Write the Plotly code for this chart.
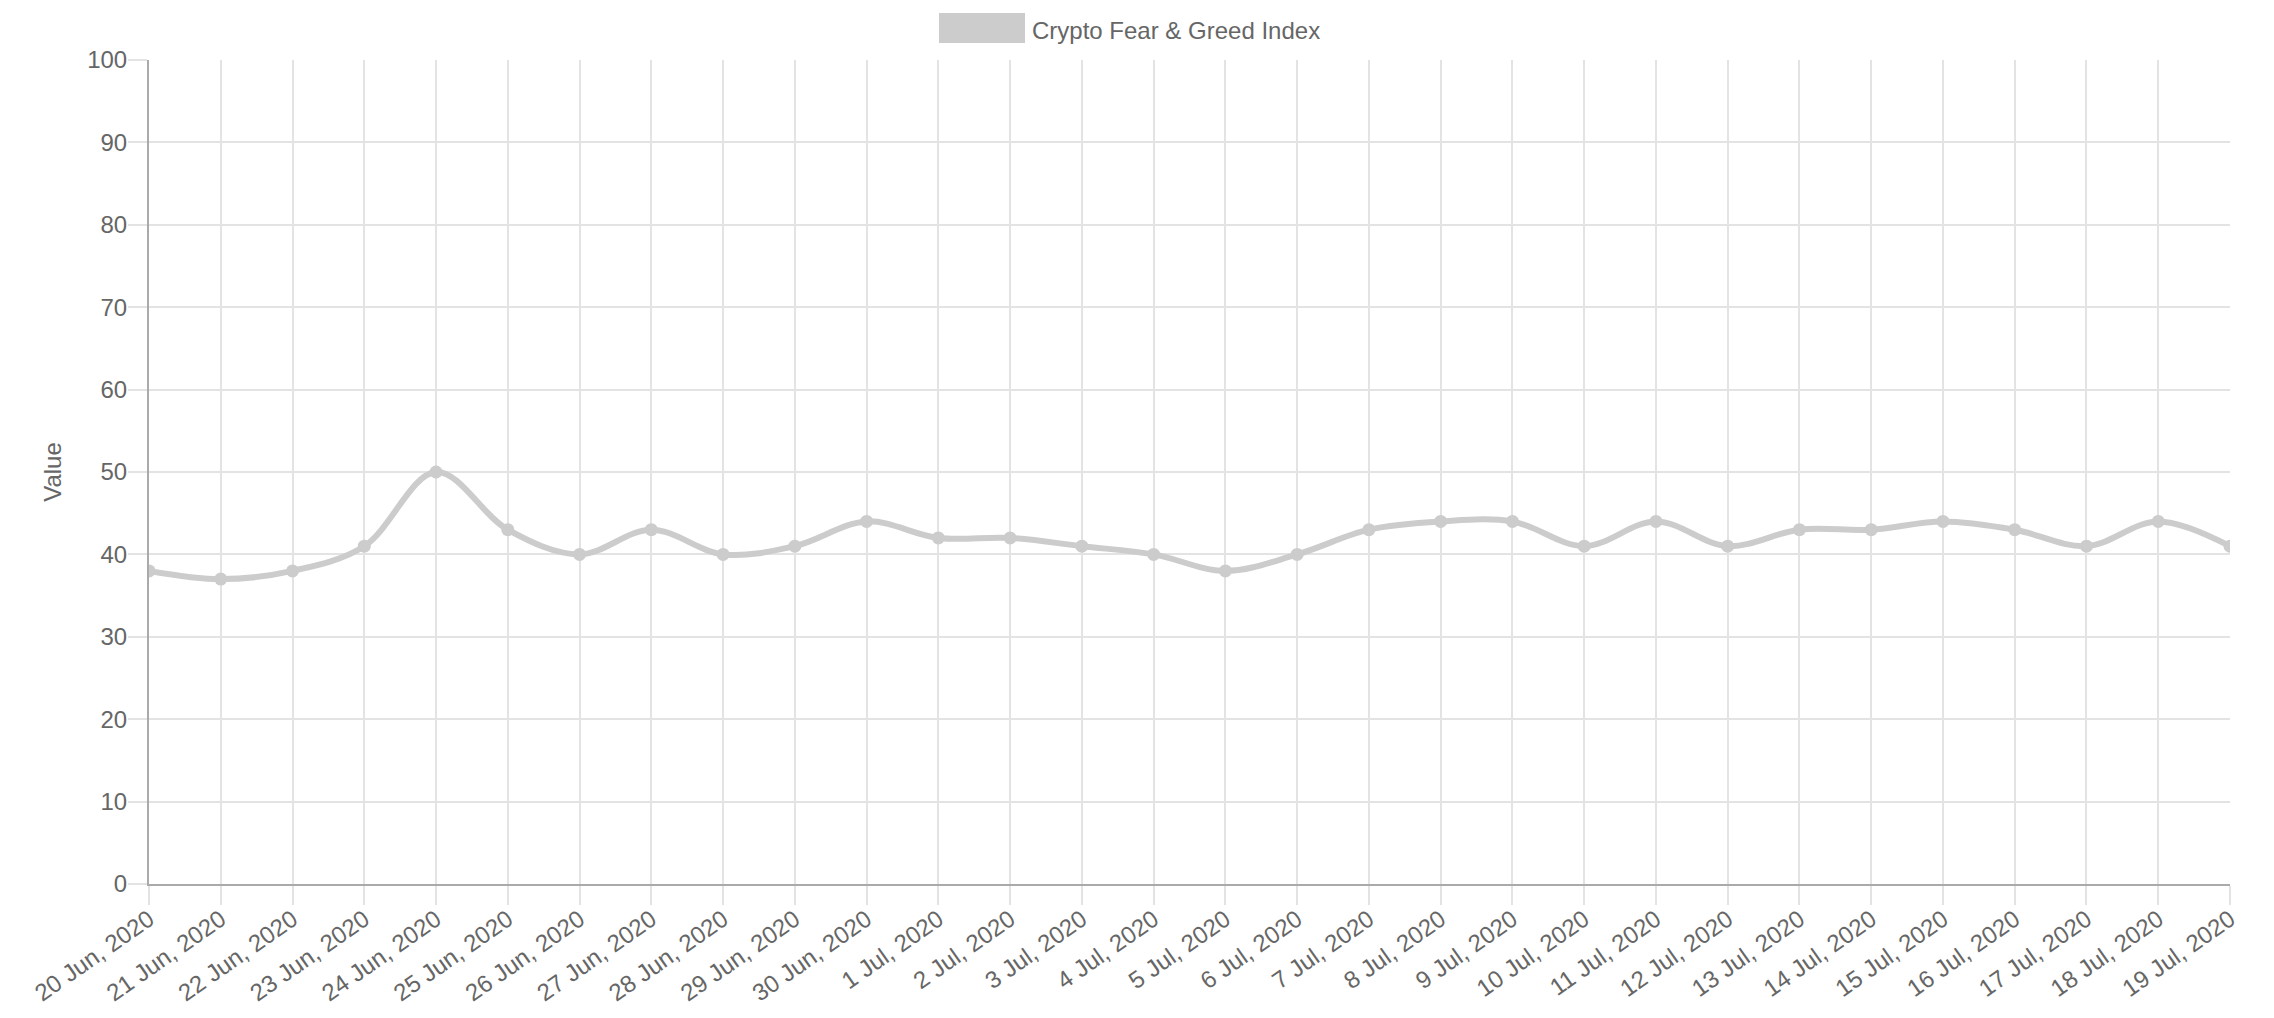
import plotly.graph_objects as go

dates = ["20 Jun, 2020", "21 Jun, 2020", "22 Jun, 2020", "23 Jun, 2020", "24 Jun, 2020",
         "25 Jun, 2020", "26 Jun, 2020", "27 Jun, 2020", "28 Jun, 2020", "29 Jun, 2020",
         "30 Jun, 2020", "1 Jul, 2020", "2 Jul, 2020", "3 Jul, 2020", "4 Jul, 2020",
         "5 Jul, 2020", "6 Jul, 2020", "7 Jul, 2020", "8 Jul, 2020", "9 Jul, 2020",
         "10 Jul, 2020", "11 Jul, 2020", "12 Jul, 2020", "13 Jul, 2020", "14 Jul, 2020",
         "15 Jul, 2020", "16 Jul, 2020", "17 Jul, 2020", "18 Jul, 2020", "19 Jul, 2020"]
values = [38, 37, 38, 41, 50, 43, 40, 43, 40, 41,
          44, 42, 42, 41, 40, 38, 40, 43, 44, 44,
          41, 44, 41, 43, 43, 44, 43, 41, 44, 41]
series_name = "Crypto Fear & Greed Index"
y_title = "Value"

LINE = "#cccccc"
TXT = "#666666"
GRID = "#e3e3e3"
AXIS = "#aaaaaa"
FONT = "Liberation Sans, Arial, Helvetica, sans-serif"

W, H = 2274, 1018
ML, MR, MT, MB = 149, 44, 60, 134
PW, PH = W - ML - MR, H - MT - MB

fig = go.Figure()
fig.add_trace(go.Scatter(
    x=dates, y=values, mode="lines+markers", name=series_name,
    line=dict(color=LINE, width=6, shape="spline", smoothing=1.0),
    marker=dict(color=LINE, size=13),
    showlegend=False,
))
# legend-only entry; its swatch is the wide box drawn below
fig.add_trace(go.Scatter(
    x=[None], y=[None], mode="lines", name=series_name,
    line=dict(color="rgba(204,204,204,0)", width=1),
    showlegend=True,
))

# wide legend swatch box (86x30 px)
bx0, bx1, by0, by1 = 939, 1025, 13, 43
fig.add_shape(
    type="rect", xref="paper", yref="paper",
    x0=(bx0 - ML) / PW, x1=(bx1 - ML) / PW,
    y0=(H - MB - by1) / PH, y1=(H - MB - by0) / PH,
    fillcolor=LINE, line=dict(width=0), layer="above",
)

fig.update_layout(
    width=W, height=H,
    margin=dict(l=ML, r=MR, t=MT, b=MB, autoexpand=False),
    paper_bgcolor="white", plot_bgcolor="white",
    font=dict(family=FONT, size=24, color=TXT),
    legend=dict(orientation="h", xref="container", yref="container",
                x=(W / 2 - 6) / W, xanchor="center", y=1 - 8 / H, yanchor="top",
                itemwidth=86, font=dict(size=24, color=TXT),
                bgcolor="rgba(0,0,0,0)"),
    xaxis=dict(
        type="category", range=[0, len(dates) - 1],
        showgrid=True, gridcolor=GRID, gridwidth=2,
        showline=True, linecolor=AXIS, linewidth=2,
        ticks="outside", ticklen=19, tickwidth=2, tickcolor=GRID,
        tickangle=-35, tickfont=dict(size=24, color=TXT),
        zeroline=False,
    ),
    yaxis=dict(
        range=[0, 100], dtick=10, tick0=0,
        showgrid=True, gridcolor=GRID, gridwidth=2,
        showline=True, linecolor=AXIS, linewidth=2,
        ticks="outside", ticklen=19, tickwidth=2, tickcolor=GRID,
        tickfont=dict(size=24, color=TXT),
        zeroline=False,
        title=dict(text=y_title, font=dict(size=24, color=TXT), standoff=19),
    ),
)

try:
    fig.update_xaxes(ticklabelstandoff=-9)
    fig.update_yaxes(ticklabelstandoff=-4)
except Exception:
    pass

fig.write_html("out.html", config={"displayModeBar": False},
               post_script="document.body.style.margin='0';")
